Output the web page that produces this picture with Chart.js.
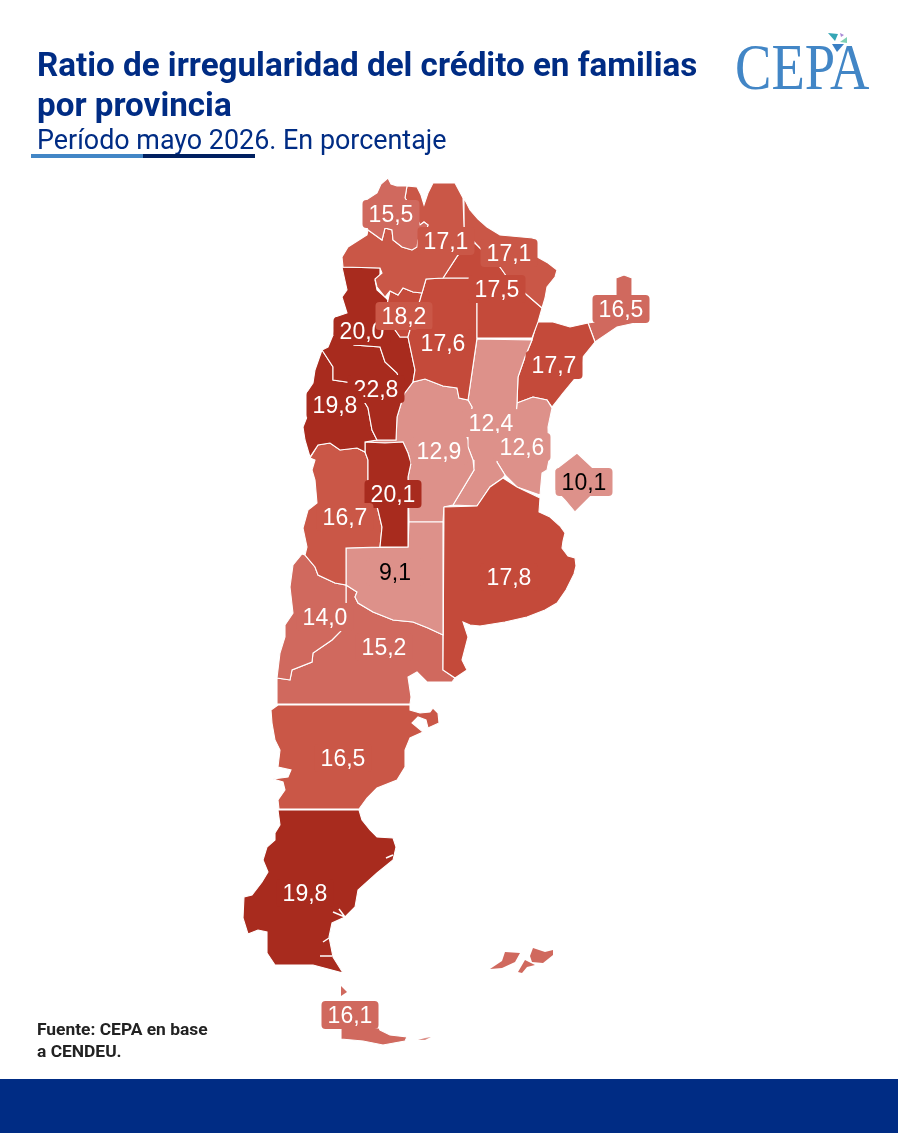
<!DOCTYPE html>
<html lang="es"><head><meta charset="utf-8">
<style>
html,body{margin:0;padding:0;background:#fff;width:898px;height:1134px;overflow:hidden}
#wrap{position:relative;width:898px;height:1134px}
canvas{position:absolute;left:0;top:0}
.t{position:absolute;white-space:nowrap;font-family:Roboto,sans-serif}
#t1,#t2{left:37px;font-weight:700;font-size:33.2px;color:#002c84;line-height:40px}
#t1{top:45px}#t2{top:85px}
#sub{left:37px;top:124px;font-size:26.9px;line-height:32px;color:#002c84}
#b1{position:absolute;left:31px;top:154px;width:112px;height:4px;background:#4286c6}
#b2{position:absolute;left:143px;top:154px;width:112px;height:4px;background:#002060}
#f1,#f2{left:37px;font-weight:700;font-size:17.4px;line-height:22px;color:#222}
#f1{top:1018px}#f2{top:1040px}
#band{position:absolute;left:0;top:1079px;width:898px;height:54px;background:#002c84}
#logo{left:735px;top:32px;font-family:"Liberation Serif",serif;font-size:65px;line-height:70px;color:#4286c6;transform:scaleX(.84);transform-origin:left top}
svg{position:absolute;left:825px;top:30px}
</style></head><body><div id="wrap">
<canvas id="c" width="898" height="1134"></canvas>
<div class="t" id="t1">Ratio de irregularidad del crédito en familias</div>
<div class="t" id="t2">por provincia</div>
<div class="t" id="sub">Período mayo 2026. En porcentaje</div>
<div id="b1"></div><div id="b2"></div>
<div class="t" id="logo">CEPA</div>
<svg width="30" height="30"><polygon points="3,3 13,4 10,11" fill="#35a6b5"/><polygon points="15,3 19,5 16,7" fill="#a98ad6"/><polygon points="15,12 22,7 22,13" fill="#7fd0b4"/><polygon points="7,14 19,14 12,22" fill="#3a7fc4"/></svg>
<div class="t" id="f1">Fuente: CEPA en base</div>
<div class="t" id="f2">a CENDEU.</div>
<div id="band"></div>
</div>
<script src="https://cdn.jsdelivr.net/npm/chart.js@4"></script>
<script>
// Province outlines, in map units
const jujuy=[[388,178],[391,184],[397,186],[407,186],[405,198],[413,210],[420,225],[424,222],[428,225],[426,232],[418,240],[417,247],[412,250],[402,247],[393,240],[392,230],[385,228],[382,240],[368,230],[363,220],[363,202],[377,193],[381,184]];
const salta=[[407,186],[417,187],[421,195],[424,205],[428,193],[433,183],[455,183],[463,198],[464,227],[470,238],[475,243],[458,255],[443,278],[426,279],[422,293],[413,292],[403,288],[398,295],[390,291],[385,297],[377,287],[375,279],[382,273],[380,268],[343,267],[342,257],[348,247],[367,235],[368,230],[382,240],[385,228],[392,230],[393,240],[402,247],[412,250],[417,247],[418,240],[426,232],[428,225],[424,222],[420,225],[413,210],[405,198]];
const formosa=[[464,198],[470,210],[478,219],[487,227],[500,235],[533,238],[537,257],[548,263],[557,270],[555,277],[547,287],[545,298],[542,308],[527,295],[507,277],[500,267],[480,248],[475,243],[470,238],[464,227]];
const chaco=[[458,255],[475,243],[480,248],[500,267],[507,277],[527,295],[542,308],[538,322],[532,338],[477,338],[477,278],[443,278]];
const santiago=[[426,279],[443,278],[477,278],[477,338],[468,400],[459,398],[457,388],[443,386],[425,379],[413,382],[415,370],[408,337],[410,330],[420,300],[422,293]];
const tucuman=[[388,300],[390,291],[398,295],[403,288],[413,292],[422,293],[420,300],[410,330],[408,337],[400,337],[393,327],[383,327]];
const catamarca=[[342,267],[380,268],[380,277],[375,280],[377,290],[385,297],[388,300],[383,327],[393,327],[400,337],[408,337],[415,370],[413,382],[404,394],[397,373],[385,362],[380,347],[354,345],[354,340],[333,335],[335,317],[347,313],[342,297],[347,290]];
const laRioja=[[333,335],[354,340],[354,345],[380,347],[385,362],[397,373],[404,394],[397,417],[396,440],[377,440],[372,430],[368,408],[353,383],[333,380],[333,367],[322,350],[328,347]];
const sanJuan=[[322,350],[315,370],[313,383],[307,392],[307,417],[303,427],[305,440],[310,457],[318,445],[330,443],[340,450],[357,448],[365,452],[365,442],[377,440],[372,430],[368,408],[353,383],[333,380],[333,367]];
const sanLuis=[[365,442],[385,443],[403,442],[408,453],[411,463],[408,477],[408,547],[380,547],[382,527],[378,510],[368,480],[368,460],[365,452]];
const mendoza=[[310,458],[318,445],[330,443],[340,450],[357,448],[365,452],[368,460],[368,480],[378,510],[382,527],[380,547],[346,548],[346,585],[335,583],[318,575],[315,567],[305,555],[307,547],[303,528],[308,510],[317,503],[315,480],[312,470],[315,460]];
const laPampa=[[346,548],[408,547],[409,522],[443,522],[443,635],[428,628],[413,622],[393,620],[373,612],[358,603],[355,597],[357,592],[346,585]];
const buenosAires=[[444,507],[477,506],[490,487],[503,478],[517,487],[540,498],[539,512],[550,517],[560,526],[565,533],[563,541],[562,548],[568,556],[575,558],[576,566],[574,574],[566,590],[557,603],[545,610],[527,617],[505,622],[480,626],[470,625],[463,622],[468,637],[462,660],[467,670],[455,678],[443,670]];
const cordoba=[[425,379],[443,386],[457,388],[459,398],[468,400],[472,407],[467,437],[468,447],[473,460],[474,470],[453,505],[444,507],[443,522],[409,522],[408,477],[411,463],[408,453],[403,442],[385,443],[365,442],[377,440],[396,440],[397,417],[404,394],[413,382]];
const santaFe=[[477,339],[532,340],[525,357],[518,377],[517,403],[515,430],[497,440],[497,462],[505,475],[503,478],[490,487],[477,506],[453,505],[474,470],[473,460],[468,447],[467,437],[472,407],[468,400]];
const entreRios=[[517,403],[533,397],[547,400],[552,408],[548,427],[549,460],[547,470],[542,473],[540,495],[517,487],[505,475],[497,462],[497,440],[515,430]];
const corrientes=[[532,340],[537,322],[553,322],[570,327],[588,323],[595,342],[583,357],[582,370],[563,393],[552,407],[547,400],[533,397],[517,403],[518,377],[525,357]];
const misiones=[[595,322],[593,300],[616,295],[616,278],[624,275],[632,278],[632,295],[645,298],[640,322],[617,327],[595,342],[588,323]];
const caba=[[577,453],[593,468],[600,476],[600,490],[590,497],[575,512],[565,500],[555,490],[555,470]];
const neuquen=[[302,554],[305,555],[315,567],[318,575],[335,583],[346,585],[346,603],[350,620],[340,632],[332,640],[313,653],[312,662],[292,670],[290,680],[277,678],[280,653],[285,637],[285,625],[293,613],[290,587],[293,565]];
const rioNegro=[[346,585],[357,592],[355,597],[358,603],[373,612],[393,620],[413,622],[428,628],[443,635],[443,670],[455,678],[452,682],[427,682],[417,672],[408,677],[411,697],[410,704],[277,704],[277,678],[290,680],[292,670],[312,662],[313,653],[332,640],[340,632],[350,620],[346,603]];
const chubut=[[278,705],[410,705],[410,710],[420,713],[430,712],[433,708],[438,713],[439,723],[428,728],[426,720],[418,717],[412,723],[423,732],[410,738],[405,750],[405,767],[397,780],[377,788],[367,798],[359,809],[279,809],[278,800],[285,790],[283,782],[273,779],[288,777],[291,770],[278,767],[280,750],[275,740],[272,723],[271,710]];
const santaCruz=[[278,810],[359,810],[362,820],[370,830],[377,837],[393,838],[396,847],[393,860],[377,873],[358,890],[355,907],[345,917],[332,923],[329,937],[333,957],[343,973],[313,965],[275,965],[267,953],[267,932],[258,930],[248,934],[243,918],[244,897],[252,895],[262,882],[268,872],[263,860],[267,847],[275,840],[275,833],[280,825]];
const tierraDelFuego=[[341,1028],[379,1028],[380,1030],[390,1035],[407,1037],[405,1041],[383,1045],[363,1041],[341,1039]];
const isla1=[[341,986],[347,992],[341,996]];
const malvinasO=[[505,952],[520,953],[515,962],[502,968],[490,969],[502,961]];
const malvinasE=[[530,956],[533,948],[545,952],[553,950],[553,955],[543,963],[532,962]];
const malvinasM=[[518,972],[525,960],[535,965],[527,967],[522,973]];
const islaEste=[[418,1040],[425,1038],[431,1037],[425,1040]];

// Colour of each province
const dark='#a82b1e', red='#c44a3a', mid='#ca5747', soft='#d0695e', pale='#dd918a';

const shapes=[
 [jujuy,soft],[salta,mid],[formosa,mid],[chaco,red],[santiago,red],[tucuman,red],
 [catamarca,dark],[laRioja,dark],[sanJuan,dark],[sanLuis,dark],[mendoza,mid],
 [laPampa,pale],[buenosAires,red],[cordoba,pale],[santaFe,pale],[entreRios,pale],
 [corrientes,red],[misiones,soft],[caba,pale],[neuquen,soft],[rioNegro,soft],
 [chubut,mid],[santaCruz,dark],[tierraDelFuego,soft]];
const islands=[[isla1,soft],[malvinasO,soft],[malvinasE,soft],[malvinasM,soft],[islaEste,pale]];

// Small inlets shown as white strokes
const inlet1=[[386,858],[393,855]];
const inlet2=[[333,912],[345,917],[339,909]];
const inlet3=[[323,942],[329,938]];
const inlet4=[[320,956],[332,956]];

// Value labels: value, map position, box colour, text colour (later ones cover earlier ones)
const labelValues=[15.5,17.1,17.1,17.5,16.5,20.0,18.2,17.6,17.7,22.8,19.8,12.4,12.9,12.6,10.1,20.1,16.7,17.8,9.1,14.0,15.2,16.5,19.8,16.1];
const labelX=[391,446,509,497,621,362,404,443,554,376,335,491,439,522,584,393,345,509,395,325,384,343,305,350];
const labelY=[214,241,253,289,309,331,316,343,365,389,405,423,451,447,482,494,517,577,572,617,647,758,893,1015];
const labelBox=[soft,mid,mid,red,soft,dark,mid,red,red,dark,dark,pale,pale,pale,pale,dark,mid,red,pale,soft,soft,mid,dark,soft];
const labelInk=['#fff','#fff','#fff','#fff','#fff','#fff','#fff','#fff','#fff','#fff','#fff','#fff','#fff','#fff','#000','#fff','#fff','#fff','#000','#fff','#fff','#fff','#fff','#fff'];

const toXY=p=>p.map(([x,y])=>({x,y}));
const datasets=shapes.map(([pts,color])=>({
  data:toXY(pts.concat([pts[0]])),showLine:true,fill:'shape',backgroundColor:color,
  borderColor:'#fff',borderWidth:1.1,pointRadius:0,tension:0,order:2}));
islands.forEach(([pts,color])=>datasets.push({data:toXY(pts.concat([pts[0]])),showLine:true,fill:'shape',backgroundColor:color,borderWidth:0,pointRadius:0,tension:0,order:2}));
[inlet1,inlet2,inlet3,inlet4].forEach(pts=>datasets.push({data:toXY(pts),showLine:true,fill:false,borderColor:'#fff',borderWidth:1.5,pointRadius:0,tension:0,order:0}));

const valueLabels={id:'valueLabels',afterDatasetsDraw(chart){
  const {ctx,scales:{x,y}}=chart;
  ctx.save();ctx.font='23px "Liberation Sans", Arial, sans-serif';ctx.textAlign='center';ctx.textBaseline='middle';
  labelValues.forEach((v,i)=>{
    const px=x.getPixelForValue(labelX[i]),py=y.getPixelForValue(labelY[i]);
    ctx.fillStyle=labelBox[i];ctx.beginPath();ctx.roundRect(px-28.5,py-14,57,28,4);ctx.fill();
    ctx.fillStyle=labelInk[i];ctx.fillText(v.toFixed(1).replace('.',','),px,py+2);
  });
  ctx.restore();
}};

new Chart(document.getElementById('c'),{type:'scatter',data:{datasets},plugins:[valueLabels],
 options:{responsive:false,animation:false,events:[],layout:{padding:0},
  plugins:{legend:{display:false},tooltip:{enabled:false},title:{display:false}},
  scales:{x:{type:'linear',min:0,max:898,display:false},y:{type:'linear',min:0,max:1134,reverse:true,display:false}}}});
</script></body></html>
